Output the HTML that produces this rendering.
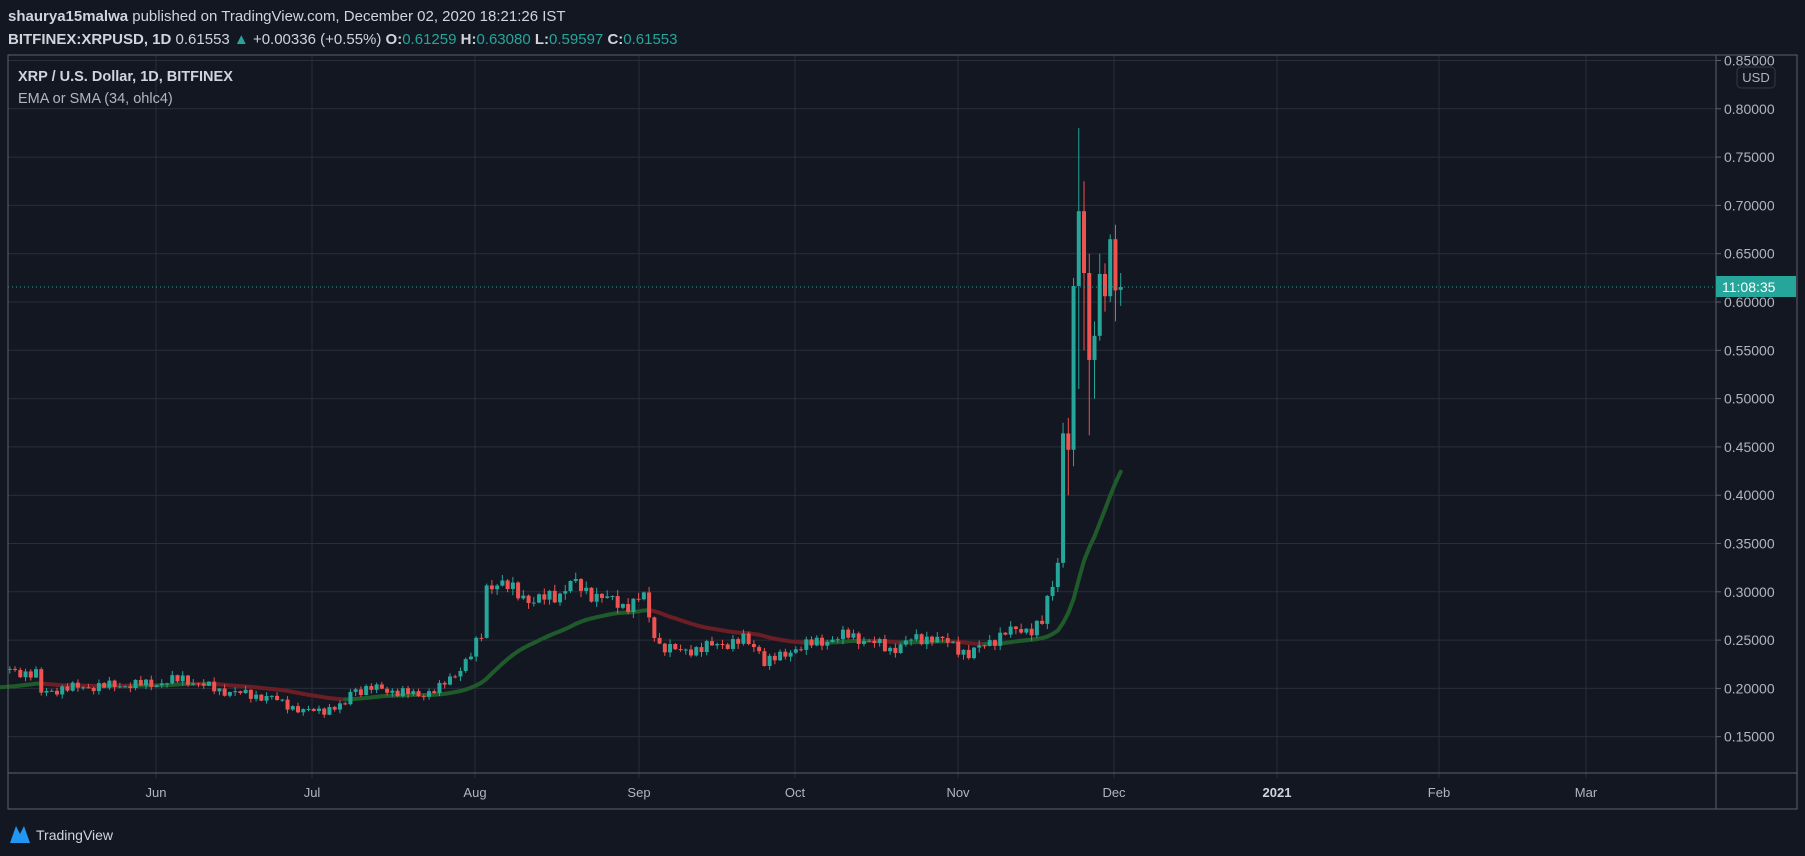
<!DOCTYPE html>
<html><head><meta charset="utf-8"><style>
html,body{margin:0;padding:0;background:#131722;width:1805px;height:856px;overflow:hidden}
svg{display:block;font-family:"Liberation Sans",sans-serif}
</style></head><body>
<svg id="s" width="1805" height="856" xmlns="http://www.w3.org/2000/svg">
<rect width="1805" height="856" fill="#131722"/>
<g id="grid"></g>
<g id="ma"></g>
<g id="candles"></g>
<line x1="8" y1="287" x2="1716" y2="287" stroke="#26a69a" stroke-width="1" stroke-dasharray="1,3"/>
<rect x="8" y="55" width="1789" height="754" fill="none" stroke="#5d606b" stroke-width="1"/>
<line x1="1716" y1="55" x2="1716" y2="809" stroke="#5d606b"/>
<line x1="8" y1="773" x2="1797" y2="773" stroke="#5d606b"/>
<g id="plabels" font-size="14" fill="#b2b5be"></g>
<rect x="1716" y="276" width="80" height="21" fill="#26a69a"/>
<text x="1722" y="292" font-size="14" fill="#fff">11:08:35</text>
<rect x="1737" y="67" width="38" height="21" rx="4" fill="#131722" stroke="#363a45"/>
<text x="1756" y="82" font-size="13" fill="#b2b5be" text-anchor="middle">USD</text>
<g font-size="13" fill="#b2b5be" text-anchor="middle">
<text x="156" y="797">Jun</text><text x="312" y="797">Jul</text><text x="475" y="797">Aug</text>
<text x="639" y="797">Sep</text><text x="795" y="797">Oct</text><text x="958" y="797">Nov</text>
<text x="1114" y="797">Dec</text><text x="1277" y="797" font-weight="bold" fill="#d1d4dc">2021</text>
<text x="1439" y="797">Feb</text><text x="1586" y="797">Mar</text>
</g>
<text x="8" y="21" font-size="15" fill="#d1d4dc"><tspan font-weight="bold">shaurya15malwa</tspan> published on TradingView.com, December 02, 2020 18:21:26 IST</text>
<text x="8" y="44" font-size="15" fill="#d1d4dc"><tspan font-weight="bold">BITFINEX:XRPUSD, 1D</tspan> 0.61553 <tspan fill="#26a69a">▲</tspan> +0.00336 (+0.55%) <tspan font-weight="bold">O:</tspan><tspan fill="#26a69a">0.61259</tspan> <tspan font-weight="bold">H:</tspan><tspan fill="#26a69a">0.63080</tspan> <tspan font-weight="bold">L:</tspan><tspan fill="#26a69a">0.59597</tspan> <tspan font-weight="bold">C:</tspan><tspan fill="#26a69a">0.61553</tspan></text>
<text x="18" y="81" font-size="14.5" fill="#d1d4dc" font-weight="bold">XRP / U.S. Dollar, 1D, BITFINEX</text>
<text x="18" y="103" font-size="14.5" fill="#b2b5be">EMA or SMA (34, ohlc4)</text>
<path d="M10 843 L16 826 L20 834 L24 826 L30 843 Z" fill="#2196f3"/>
<text x="36" y="840" font-size="14" fill="#d1d4dc">TradingView</text>
</svg>
<script>
const NS="http://www.w3.org/2000/svg";
function el(p,t,a){const e=document.createElementNS(NS,t);for(const k in a)e.setAttribute(k,a[k]);p.appendChild(e);return e;}
const Y=p=>302+(0.60-p)/0.05*48.3;
const X=i=>1120.7-(212-i)*5.24;
const grid=document.getElementById('grid'),pl=document.getElementById('plabels');
for(let k=3;k<=17;k++){const p=k*0.05,y=Y(p);el(grid,'line',{x1:8,x2:1716,y1:y,y2:y,stroke:'#2a2e39'});
 el(pl,'line',{x1:1716,x2:1721,y1:y,y2:y,stroke:'#5d606b'});
 const t=el(pl,'text',{x:1724,y:y+5});t.textContent=p.toFixed(5);}
[156,312,475,639,795,958,1114,1277,1439,1586].forEach(x=>{el(grid,'line',{x1:x,x2:x,y1:55,y2:778,stroke:'#2a2e39'});});
const A=[[0,0.218],[5,0.215],[6,0.195],[10,0.200],[20,0.203],[28,0.205],[33,0.210],[40,0.198],[50,0.190],[56,0.176],[60,0.178],[64,0.182],[65,0.198],[70,0.200],[78,0.193],[82,0.200],[85,0.215],[88,0.235],[90,0.255],[91,0.305],[93,0.310],[100,0.290],[105,0.298],[107,0.310],[110,0.300],[113,0.295],[117,0.285],[120,0.292],[121,0.296],[122,0.270],[124,0.245],[128,0.238],[135,0.245],[140,0.250],[143,0.240],[144,0.228],[147,0.232],[150,0.242],[156,0.25],[160,0.255],[165,0.247],[168,0.240],[172,0.250],[176,0.253],[180,0.245],[183,0.235],[186,0.245],[190,0.258],[195,0.262],[197,0.268],[198,0.29],[199,0.305],[200,0.33]];
function interp(i){for(let k=0;k<A.length-1;k++){if(i>=A[k][0]&&i<=A[k+1][0]){const t=(i-A[k][0])/(A[k+1][0]-A[k][0]);return A[k][1]+t*(A[k+1][1]-A[k][1]);}}return A[A.length-1][1];}
const C=[];let prev=0.22;
for(let i=0;i<=200;i++){const b=interp(i);const n=b*(0.018*Math.sin(i*2.7)+0.012*Math.sin(i*5.3+1));const c=b+n;const o=prev;const h=Math.max(o,c)+b*0.012*(1+Math.sin(i*3.1)*0.8);const l=Math.min(o,c)-b*0.012*(1+Math.cos(i*1.9)*0.8);C.push([o,h,l,c]);prev=c;}
C[200]=[C[199][3],0.335,0.30,0.33];
const E=[[0.33,0.475,0.325,0.464],[0.464,0.48,0.40,0.447],[0.447,0.625,0.43,0.6166],[0.6166,0.78,0.51,0.694],[0.694,0.725,0.55,0.630],[0.63,0.65,0.462,0.54],[0.54,0.58,0.50,0.565],[0.565,0.65,0.56,0.629],[0.629,0.64,0.59,0.606],[0.606,0.67,0.60,0.665],[0.665,0.68,0.58,0.612],[0.6126,0.63,0.596,0.6155]];
E.forEach(e=>C.push(e));
const cg=document.getElementById('candles');
C.forEach((c,i)=>{const x=X(i),up=c[3]>=c[0],col=up?'#26a69a':'#ef5350';
 el(cg,'line',{x1:x,x2:x,y1:Y(c[1]),y2:Y(c[2]),stroke:col,'stroke-width':1});
 const t=Y(Math.max(c[0],c[3])),b=Y(Math.min(c[0],c[3]));el(cg,'rect',{x:x-2,y:t,width:4,height:Math.max(1,b-t),fill:col});});
// MA (EMA 34)
const o4=C.map(c=>(c[0]+c[1]+c[2]+c[3])/4);
const ma=[];let e=0.2;const al=2/35;for(let i=0;i<o4.length;i++){e=e+al*(o4[i]-e);ma.push(e);}
const mg=document.getElementById('ma');
for(let i=1;i<ma.length;i++){const col=ma[i]>=ma[i-1]?'#1f5a2a':'#6a1e25';
 el(mg,'line',{x1:X(i-1)-(i==1?10:0),y1:Y(ma[i-1]),x2:X(i),y2:Y(ma[i]),stroke:col,'stroke-width':4,'stroke-linecap':'round'});}
</script>
</body></html>
